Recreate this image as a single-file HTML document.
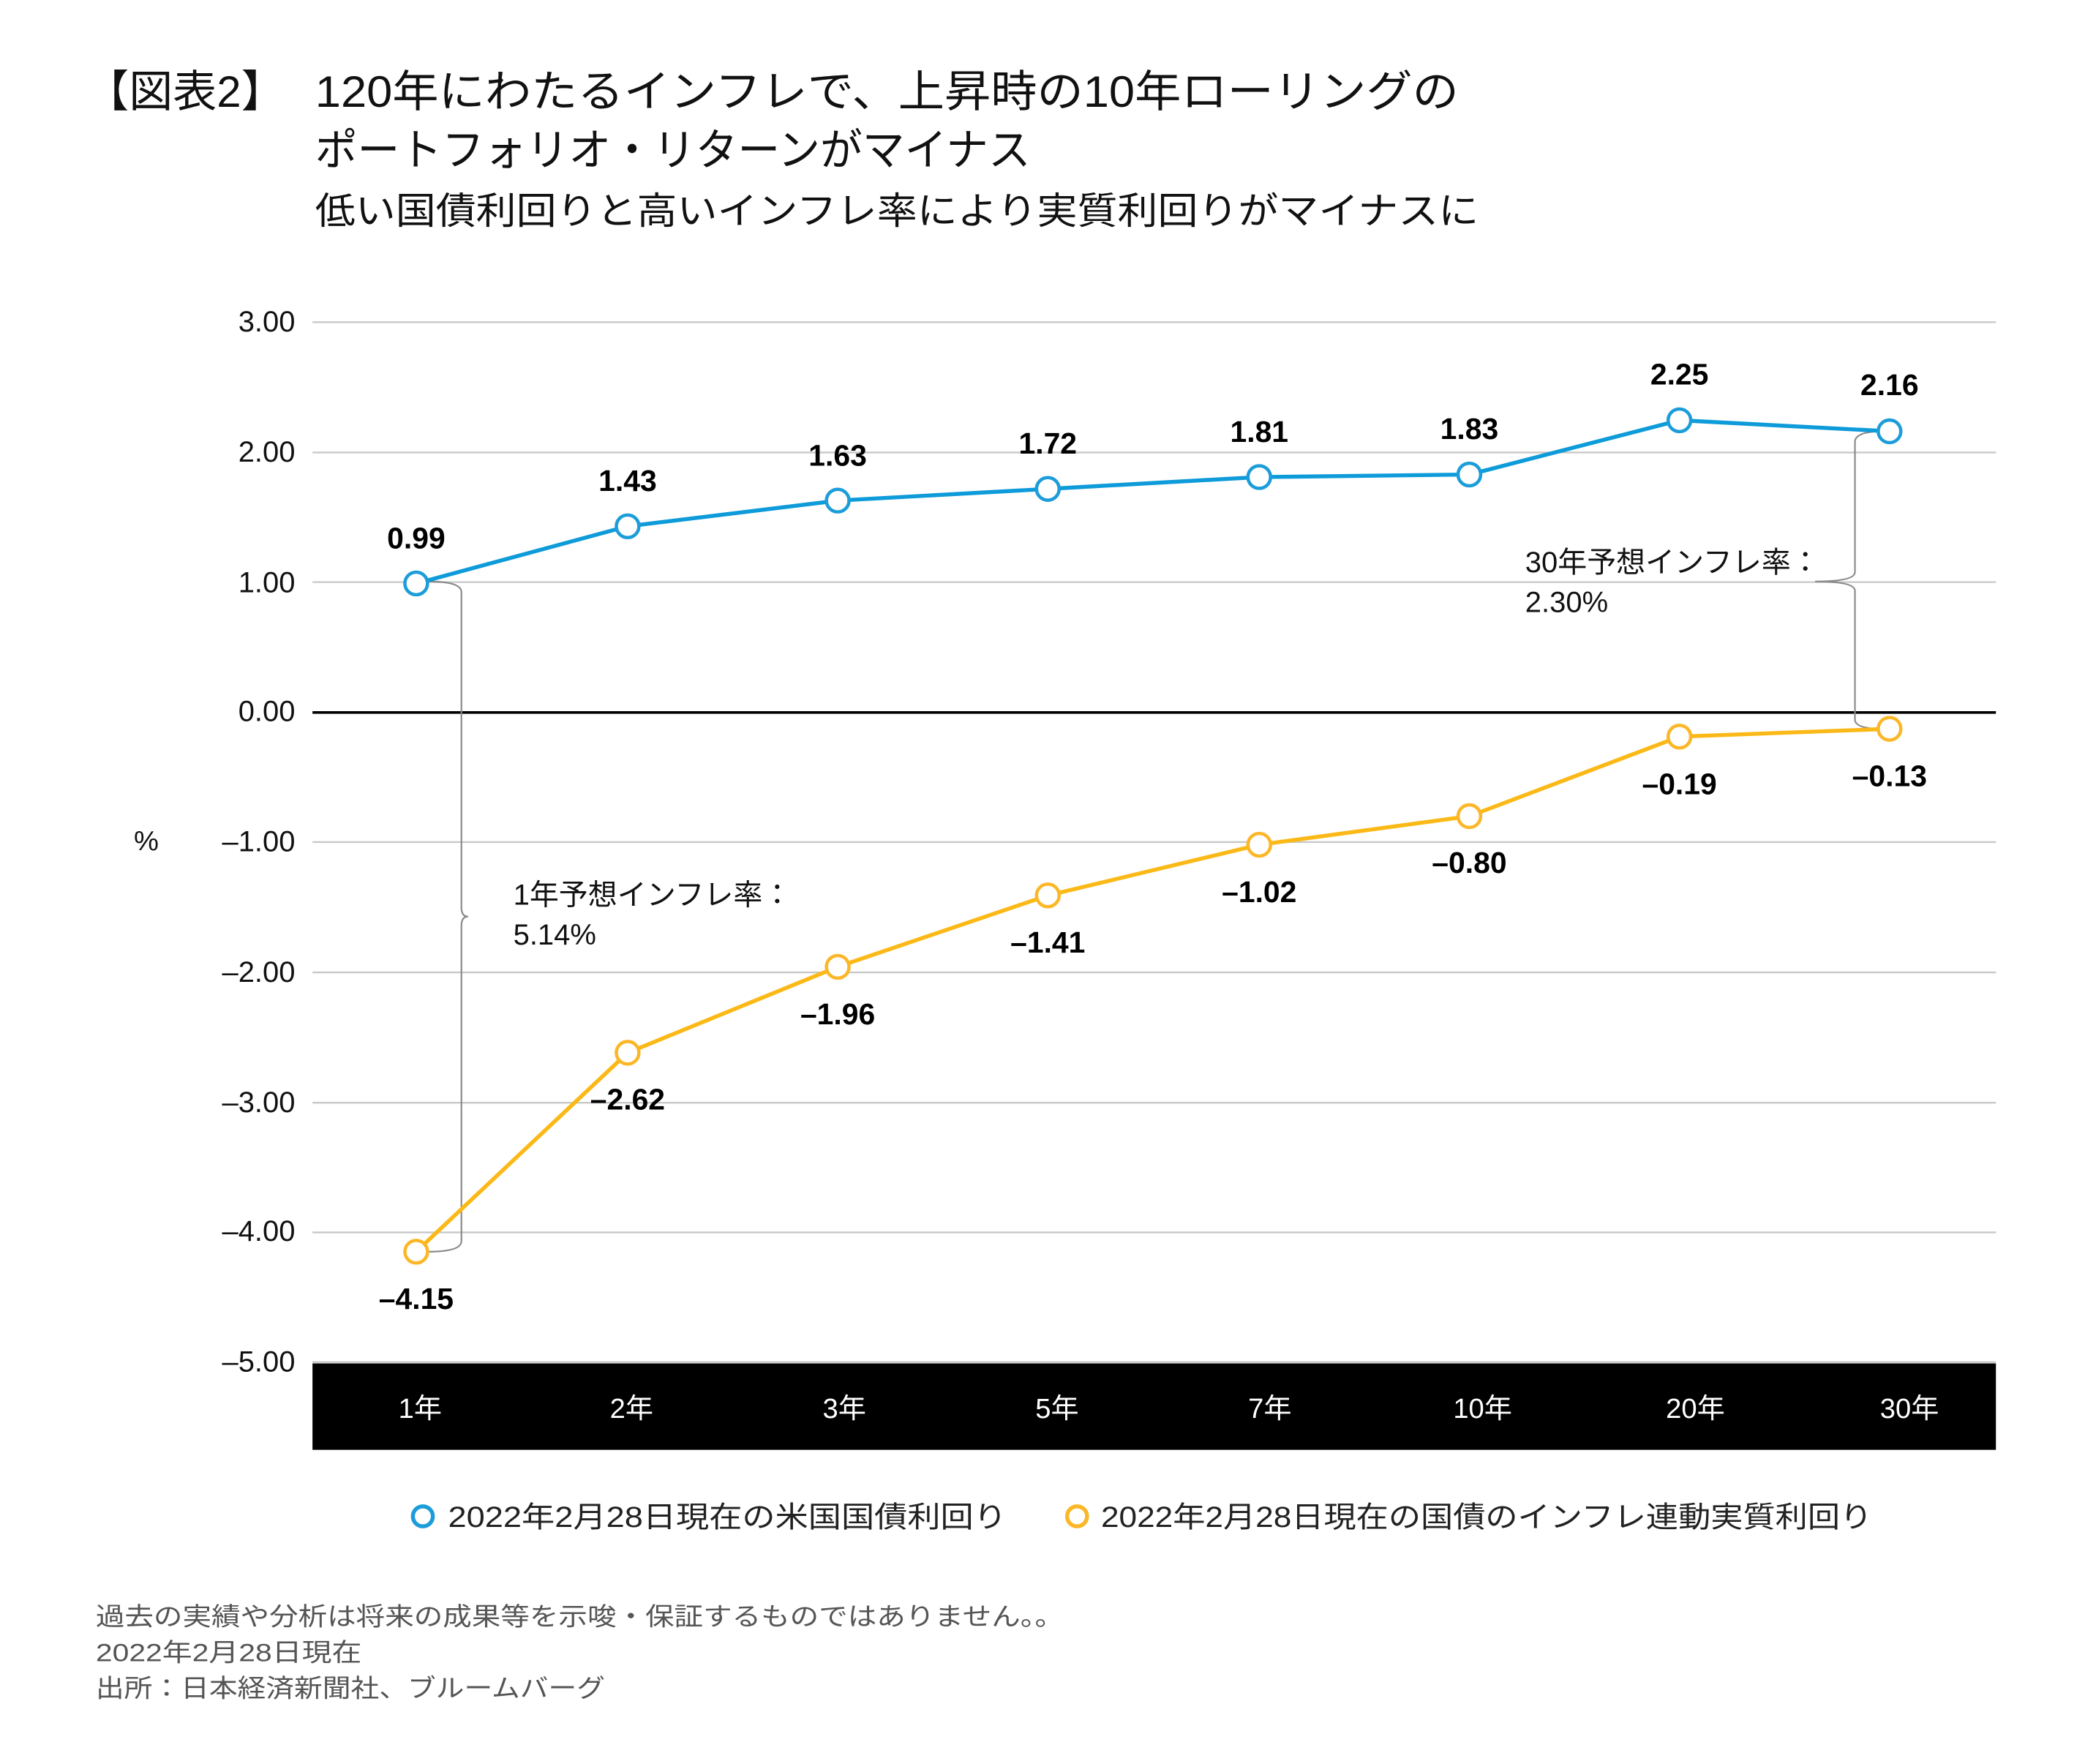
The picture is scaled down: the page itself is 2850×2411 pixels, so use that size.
<!DOCTYPE html>
<html><head><meta charset="utf-8"><style>
html,body{margin:0;padding:0;background:#fff}
svg{display:block}
text{font-family:"Liberation Sans","Noto Sans CJK JP",sans-serif}
</style></head><body>
<svg width="2850" height="2411" viewBox="0 0 1568 1326" xmlns="http://www.w3.org/2000/svg">
<rect width="1568" height="1326" fill="#fff"/>
<g font-size="33" fill="#111">
<text x="64" y="80">【図表2】</text>
<text x="237" y="80" textLength="860" lengthAdjust="spacingAndGlyphs">120年にわたるインフレで、上昇時の10年ローリングの</text>
<text x="237" y="124" textLength="538" lengthAdjust="spacingAndGlyphs">ポートフォリオ・リターンがマイナス</text>
</g>
<text x="237" y="168" font-size="28" fill="#111" textLength="875" lengthAdjust="spacingAndGlyphs">低い国債利回りと高いインフレ率により実質利回りがマイナスに</text>

<g stroke="#c8c8c8" stroke-width="1.3">
<line x1="235" x2="1501" y1="242" y2="242"/>
<line x1="235" x2="1501" y1="340" y2="340"/>
<line x1="235" x2="1501" y1="437.5" y2="437.5"/>
<line x1="235" x2="1501" y1="633" y2="633"/>
<line x1="235" x2="1501" y1="731" y2="731"/>
<line x1="235" x2="1501" y1="829" y2="829"/>
<line x1="235" x2="1501" y1="926.5" y2="926.5"/>
<line x1="235" x2="1501" y1="1024" y2="1024"/>
</g>
<line x1="235" x2="1501" y1="535.5" y2="535.5" stroke="#000" stroke-width="2"/>

<g font-size="22" fill="#111" text-anchor="end">
<text x="222" y="249">3.00</text>
<text x="222" y="347">2.00</text>
<text x="222" y="445">1.00</text>
<text x="222" y="542">0.00</text>
<text x="222" y="640">–1.00</text>
<text x="222" y="738">–2.00</text>
<text x="222" y="836">–3.00</text>
<text x="222" y="933">–4.00</text>
<text x="222" y="1031">–5.00</text>
</g>
<text x="110" y="639" font-size="21" text-anchor="middle" fill="#111">%</text>

<rect x="235" y="1025" width="1266" height="65" fill="#000"/>
<g font-size="21" fill="#fff" text-anchor="middle">
<text x="316" y="1066">1年</text><text x="475" y="1066">2年</text><text x="635" y="1066">3年</text><text x="795" y="1066">5年</text>
<text x="955" y="1066">7年</text><text x="1115" y="1066">10年</text><text x="1275" y="1066">20年</text><text x="1436" y="1066">30年</text>
</g>

<g fill="none" stroke="#8a8a8a" stroke-width="1.2">
<path d="M322,437 Q347,437 347,445 L347,682 Q347,689 352,689 Q347,689 347,696 L347,933 Q347,941 322,941"/>
<path d="M1418,324 Q1395,324 1395,332 L1395,430 Q1395,437 1365,437 Q1395,437 1395,444 L1395,541 Q1395,548 1418,548"/>
</g>
<rect x="1142" y="404" width="224" height="30" fill="#fff"/>
<g font-size="22" fill="#111">
<text x="386" y="680">1年予想インフレ率：</text>
<text x="386" y="710">5.14%</text>
<text x="1147" y="430">30年予想インフレ率：</text>
<text x="1147" y="460">2.30%</text>
</g>

<polyline fill="none" stroke="#0e9bd9" stroke-width="3" points="313,438.5 472,395.5 630,376.2 788,367.4 947,358.5 1105,356.6 1263,315.8 1421,324.1"/>
<polyline fill="none" stroke="#fbb917" stroke-width="3" points="313,941 472,791.4 630,726.8 788,673.1 947,635 1105,613.5 1263,553.7 1421,547.8"/>
<g fill="#fff" stroke="#1c9dd9" stroke-width="2.5">
<circle cx="313" cy="438.5" r="8.5"/><circle cx="472" cy="395.5" r="8.5"/><circle cx="630" cy="376.2" r="8.5"/><circle cx="788" cy="367.4" r="8.5"/>
<circle cx="947" cy="358.5" r="8.5"/><circle cx="1105" cy="356.6" r="8.5"/><circle cx="1263" cy="315.8" r="8.5"/><circle cx="1421" cy="324.1" r="8.5"/>
</g>
<g fill="#fff" stroke="#fbb727" stroke-width="2.5">
<circle cx="313" cy="941" r="8.5"/><circle cx="472" cy="791.4" r="8.5"/><circle cx="630" cy="726.8" r="8.5"/><circle cx="788" cy="673.1" r="8.5"/>
<circle cx="947" cy="635" r="8.5"/><circle cx="1105" cy="613.5" r="8.5"/><circle cx="1263" cy="553.7" r="8.5"/><circle cx="1421" cy="547.8" r="8.5"/>
</g>
<g font-size="22.5" font-weight="bold" fill="#000" text-anchor="middle">
<text x="313" y="412">0.99</text><text x="472" y="369">1.43</text><text x="630" y="350">1.63</text><text x="788" y="341">1.72</text>
<text x="947" y="332">1.81</text><text x="1105" y="330">1.83</text><text x="1263" y="289">2.25</text><text x="1421" y="297">2.16</text>
<text x="313" y="984">–4.15</text><text x="472" y="834">–2.62</text><text x="630" y="770">–1.96</text><text x="788" y="716">–1.41</text>
<text x="947" y="678">–1.02</text><text x="1105" y="656">–0.80</text><text x="1263" y="597">–0.19</text><text x="1421" y="591">–0.13</text>
</g>

<circle cx="318" cy="1140" r="7.5" fill="#fff" stroke="#1c9dd9" stroke-width="3"/>
<text x="337" y="1148" font-size="22" fill="#222" textLength="420" lengthAdjust="spacingAndGlyphs">2022年2月28日現在の米国国債利回り</text>
<circle cx="810" cy="1140" r="7.5" fill="#fff" stroke="#fbb727" stroke-width="3"/>
<text x="828" y="1148" font-size="22" fill="#222" textLength="580" lengthAdjust="spacingAndGlyphs">2022年2月28日現在の国債のインフレ連動実質利回り</text>

<g font-size="19" fill="#555">
<text x="72" y="1222" textLength="728" lengthAdjust="spacingAndGlyphs">過去の実績や分析は将来の成果等を示唆・保証するものではありません。。</text>
<text x="72" y="1249" textLength="200" lengthAdjust="spacingAndGlyphs">2022年2月28日現在</text>
<text x="72" y="1276" textLength="383" lengthAdjust="spacingAndGlyphs">出所：日本経済新聞社、ブルームバーグ</text>
</g>
</svg>
</body></html>
